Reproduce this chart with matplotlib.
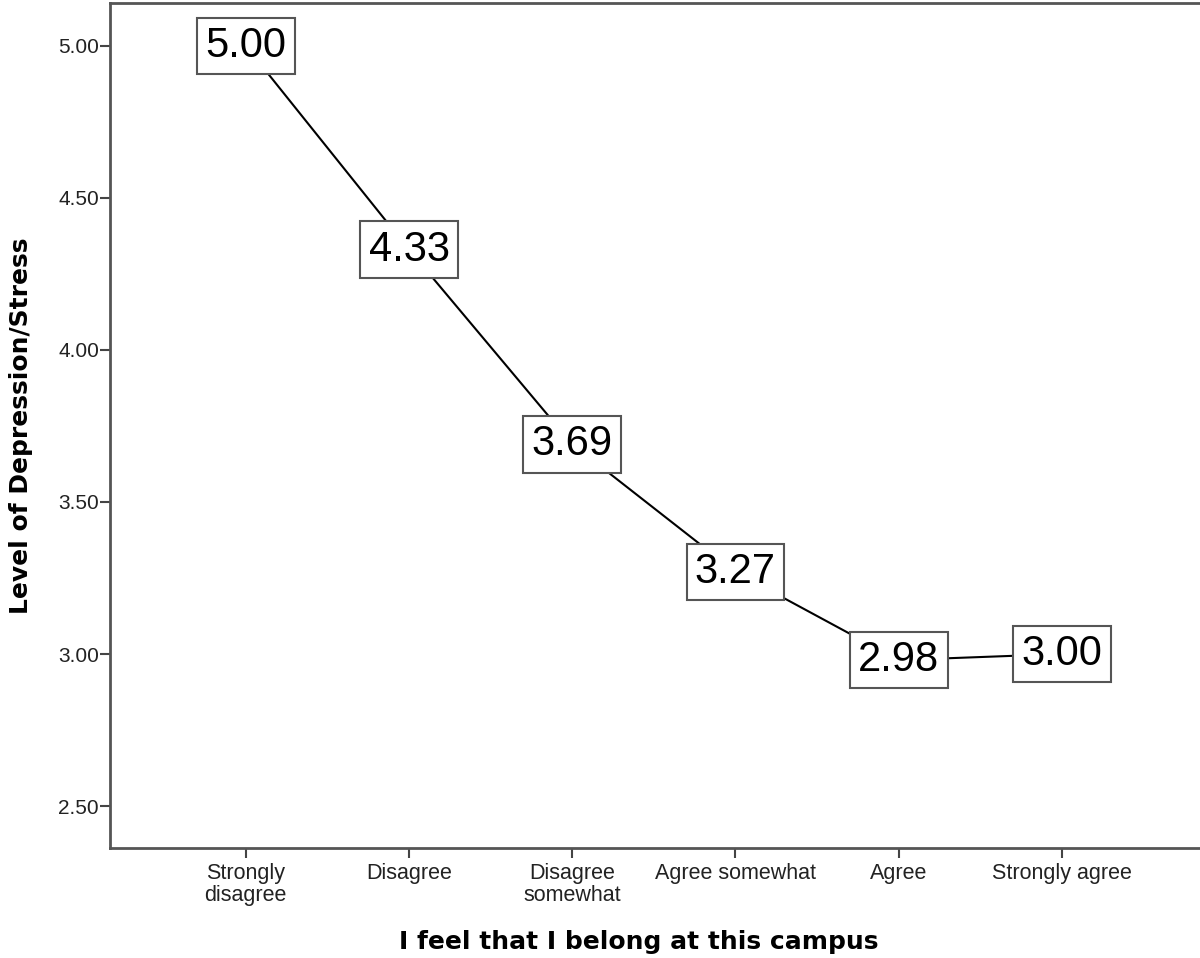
import matplotlib.pyplot as plt

# valores
categorias = ['Strongly\ndisagree', 'Disagree', 'Disagree\nsomewhat',
              'Agree somewhat', 'Agree', 'Strongly agree']
medias = [5.00, 4.33, 3.69, 3.27, 2.98, 3.00]
yticks = [2.50, 3.00, 3.50, 4.00, 4.50, 5.00]

plt.rcParams['font.family'] = ['Liberation Sans', 'DejaVu Sans']

fig = plt.figure(figsize=(12, 9.58), dpi=100)
ax = fig.add_axes([110/1200, 110/958, 1.0 - 110/1200 + 0.01, 845/958])

x = list(range(len(medias)))
ax.plot(x, medias, color='black', lw=1.5, zorder=2)

# rotulos em caixas sobre cada ponto
for xi, v in zip(x, medias):
    ax.text(xi, v, f'{v:.2f}', fontsize=30, ha='center', va='center', zorder=3,
            bbox=dict(boxstyle='square,pad=0.2', fc='white', ec='#555555', lw=1.5))

ax.set_xlim(-0.832, 5.84 + 0.08)
ax.set_ylim(2.362, 5.141)
ax.set_xticks(x)
ax.set_xticklabels(categorias, fontsize=15.5, linespacing=1.05, color='#222222')
ax.set_yticks(yticks)
ax.set_yticklabels([f'{t:.2f}' for t in yticks], fontsize=15, color='#222222')

for s in ['left', 'bottom', 'top']:
    ax.spines[s].set_color('#555555')
    ax.spines[s].set_linewidth(2)
ax.spines['right'].set_visible(False)
ax.tick_params(axis='both', length=7, width=1.5, color='#444444')
ax.tick_params(axis='x', pad=4)
ax.tick_params(axis='y', pad=1)

ax.set_ylabel('Level of Depression/Stress', fontsize=18, fontweight='bold',
              family='DejaVu Sans')
ax.yaxis.set_label_coords(-0.07, 0.5)
ax.set_xlabel('I feel that I belong at this campus', fontsize=18, fontweight='bold',
              family='DejaVu Sans')
ax.xaxis.set_label_coords(0.48, -0.097)

fig.savefig('out.png', dpi=100)
